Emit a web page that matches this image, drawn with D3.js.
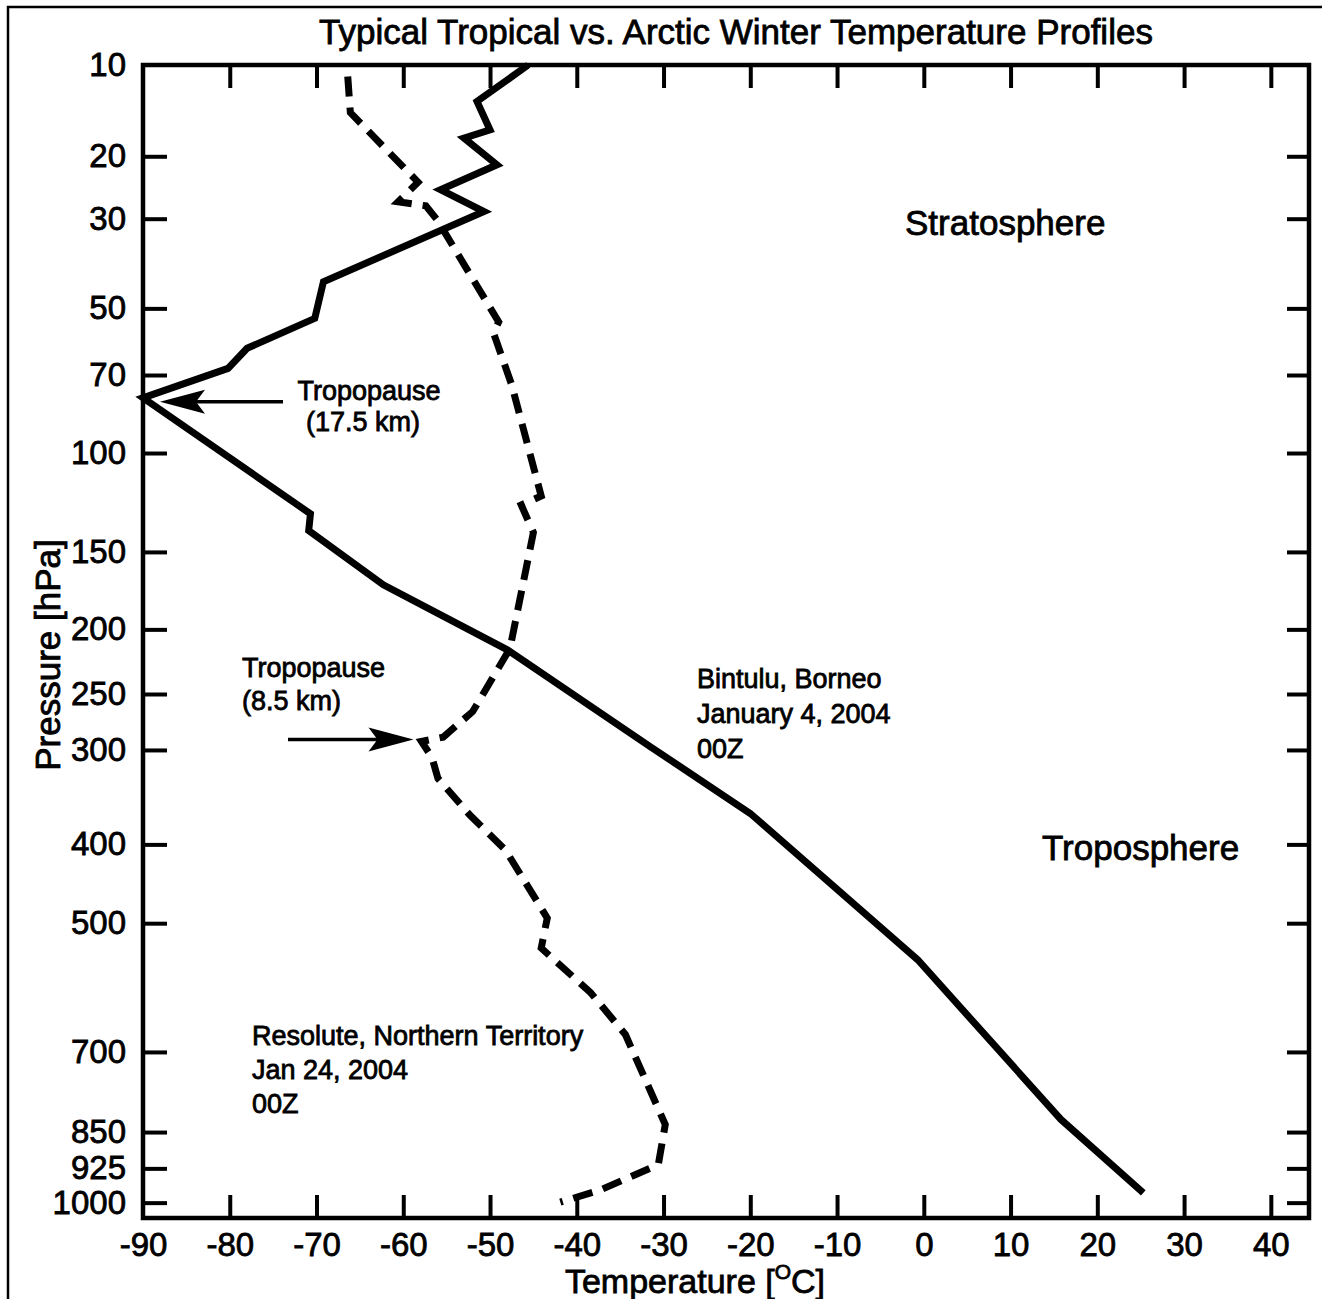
<!DOCTYPE html>
<html>
<head>
<meta charset="utf-8">
<title>Typical Tropical vs. Arctic Winter Temperature Profiles</title>
<script src="https://cdn.jsdelivr.net/npm/d3@7"></script>
<style>
  html, body { margin: 0; padding: 0; background: #fff; }
  svg { display: block; font-family: "Liberation Sans", Arial, Helvetica, sans-serif; }
  .tick line { stroke: #000; stroke-width: 4; }
  text { fill: #000; stroke: #000; stroke-width: 0.8px; }
</style>
</head>
<body>
<svg id="chart" width="1322" height="1299"></svg>
<script>
// Bintulu, Borneo sounding, January 4, 2004 00Z (pressure hPa, temperature °C)
const bintuluPressure = [10, 13.4, 16.6, 17.6, 21.2, 25.0, 28.7, 43.3, 52.7, 61.4, 67.8, 78,
                         129, 138, 170, 215, 297, 365, 552, 825, 978];
const bintuluTemp     = [-45.6, -51.5, -50.0, -53.0, -49.2, -55.7, -50.7, -69.2, -70.2, -78.0, -80.2, -90.0,
                         -70.7, -70.9, -62.3, -48.0, -31.5, -20.0, -0.7, 15.8, 25.3];

// Resolute sounding, Jan 24, 2004 00Z
const resolutePressure = [11, 14.6, 23.8, 27.0, 27.7, 30.2, 53.7, 56.8, 73.4, 120, 124.5, 139,
                          214, 265, 288, 292, 307, 328, 367, 407, 493, 535, 602, 670, 835, 917, 972, 999];
const resoluteTemp     = [-66.4, -66.1, -58.3, -60.6, -57.4, -56.1, -49.0, -49.6, -47.5, -44.1, -46.4, -45.0,
                          -47.7, -52.0, -55.4, -57.9, -56.7, -56.0, -52.3, -48.2, -43.4, -44.1, -38.4, -34.4,
                          -29.8, -30.6, -37.3, -41.9];

// Axis tick labels
const pressureTicks = [10, 20, 30, 50, 70, 100, 150, 200, 250, 300, 400, 500, 700, 850, 925, 1000];
const tempTicks = [-90, -80, -70, -60, -50, -40, -30, -20, -10, 0, 10, 20, 30, 40];

// Axis extents
const tempExtent = [-90, 44.4];
const pressureExtent = [10, 1035];

// Tropopause markers (index into each sounding)
const tropicalTropopauseIdx = 11;
const arcticTropopauseIdx = 15;

const svg = d3.select("#chart");

// Temperature is linear; pressure uses p^(R/cp), as on a thermodynamic diagram
const x = d3.scaleLinear().domain(tempExtent).range([143, 1309]);
const y = d3.scalePow().exponent(0.286).domain(pressureExtent).range([65, 1218]);

// outer page border
svg.append("rect")
  .attr("x", 8).attr("y", 7).attr("width", 1340).attr("height", 1320)
  .attr("fill", "none").attr("stroke", "#000").attr("stroke-width", 2.5);

// plot frame
svg.append("rect")
  .attr("x", x(tempExtent[0])).attr("y", y(pressureExtent[0]))
  .attr("width", x(tempExtent[1]) - x(tempExtent[0]))
  .attr("height", y(pressureExtent[1]) - y(pressureExtent[0]))
  .attr("fill", "none").attr("stroke", "#000").attr("stroke-width", 4.5);

function styleAxis(g, fontSize) {
  g.select(".domain").remove();
  g.attr("font-family", null).attr("font-size", fontSize);
}

// bottom axis
const gBottom = svg.append("g")
  .attr("transform", `translate(0,${y(pressureExtent[1])})`)
  .call(d3.axisBottom(x).tickValues(tempTicks).tickSize(-23).tickPadding(15).tickFormat(d => String(d)));
styleAxis(gBottom, 33);
gBottom.selectAll(".tick").filter(d => d === tempExtent[0]).select("line").remove();

// top axis (ticks only)
const gTop = svg.append("g")
  .attr("transform", `translate(0,${y(pressureExtent[0])})`)
  .call(d3.axisTop(x).tickValues(tempTicks.filter(d => d !== tempExtent[0])).tickSize(-23).tickFormat(""));
styleAxis(gTop, 33);

// left axis
const gLeft = svg.append("g")
  .attr("transform", `translate(${x(tempExtent[0])},0)`)
  .call(d3.axisLeft(y).tickValues(pressureTicks).tickSize(-24).tickPadding(17).tickFormat(d => String(d)));
styleAxis(gLeft, 33);
gLeft.selectAll(".tick").filter(d => d === pressureExtent[0]).select("line").remove();

// right axis (ticks only)
const gRight = svg.append("g")
  .attr("transform", `translate(${x(tempExtent[1])},0)`)
  .call(d3.axisRight(y).tickValues(pressureTicks.filter(d => d !== pressureExtent[0])).tickSize(-22).tickFormat(""));
styleAxis(gRight, 33);

// profiles
const line = d3.line().x(d => x(d.t)).y(d => y(d.p));
const bintulu = bintuluPressure.map((p, i) => ({ p, t: bintuluTemp[i] }));
const resolute = resolutePressure.map((p, i) => ({ p, t: resoluteTemp[i] }));

svg.append("path").datum(bintulu)
  .attr("d", line)
  .attr("fill", "none").attr("stroke", "#000").attr("stroke-width", 7)
  .attr("stroke-linejoin", "miter").attr("stroke-miterlimit", 3);

svg.append("path").datum(resolute)
  .attr("d", line)
  .attr("fill", "none").attr("stroke", "#000").attr("stroke-width", 7)
  .attr("stroke-dasharray", "20 11")
  .attr("stroke-linejoin", "miter").attr("stroke-miterlimit", 3);

// text helpers
function addText(xp, yp, txt, size, anchor) {
  return svg.append("text").attr("x", xp).attr("y", yp)
    .attr("font-size", size).attr("text-anchor", anchor || "start")
    .text(txt);
}

addText(736, 44, "Typical Tropical vs. Arctic Winter Temperature Profiles", 35, "middle");
addText(905, 235, "Stratosphere", 35);
addText(1042, 860, "Troposphere", 35);

["Bintulu, Borneo", "January 4, 2004", "00Z"].forEach((s, i) => addText(697, 688 + i * 35, s, 27));
["Resolute, Northern Territory", "Jan 24, 2004", "00Z"].forEach((s, i) => addText(252, 1045 + i * 34, s, 27));

addText(369, 400, "Tropopause", 27, "middle");
addText(363, 431, "(17.5 km)", 27, "middle");
addText(242, 677, "Tropopause", 27);
addText(242, 710, "(8.5 km)", 27);

// axis titles
const xTitle = svg.append("text").attr("x", 695).attr("y", 1293)
  .attr("font-size", 34).attr("text-anchor", "middle");
xTitle.append("tspan").text("Temperature [");
xTitle.append("tspan").attr("font-size", 21).attr("dy", -14).text("O");
xTitle.append("tspan").attr("dy", 14).text("C]");

svg.append("text")
  .attr("transform", "translate(60,655) rotate(-90)")
  .attr("font-size", 35).attr("text-anchor", "middle")
  .text("Pressure [hPa]");

// arrows pointing to each tropopause
function arrow(tipX, tipY, tailX) {
  const dir = Math.sign(tailX - tipX);
  svg.append("line")
    .attr("x1", tailX).attr("y1", tipY).attr("x2", tipX + dir * 30).attr("y2", tipY)
    .attr("stroke", "#000").attr("stroke-width", 3.5);
  const hx = tipX + dir * 45;
  svg.append("path")
    .attr("d", `M${tipX},${tipY} L${hx},${tipY - 12} L${tipX + dir * 36},${tipY} L${hx},${tipY + 12} Z`)
    .attr("fill", "#000");
}

const tt = bintulu[tropicalTropopauseIdx];
arrow(x(tt.t) + 17, y(tt.p) + 4, 283);
const ta = resolute[arcticTropopauseIdx];
arrow(x(ta.t) - 8, y(ta.p) - 2, 288);
</script>
</body>
</html>
